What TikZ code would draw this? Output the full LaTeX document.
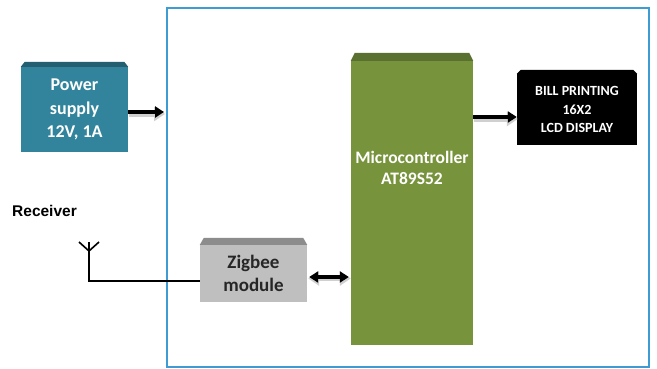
\documentclass[tikz,border=0pt]{standalone}
\usepackage{fontspec}
\setmainfont{Carlito}
\newfontfamily\arialfont{Liberation Sans}
\usetikzlibrary{arrows.meta,calc}
\definecolor{teal1}{HTML}{31849B}
\definecolor{teal2}{HTML}{235F70}
\definecolor{green1}{HTML}{77933C}
\definecolor{green2}{HTML}{5A7030}
\definecolor{gray1}{HTML}{BFBFBF}
\definecolor{gray2}{HTML}{8C8C8C}
\definecolor{frame}{HTML}{3F9BD3}
\definecolor{shadowc}{HTML}{D0D0D0}
\tikzset{
  blk/.style={inner sep=0pt, align=center, font=\bfseries},
  bigarrow/.style={line width=3.6pt, -{Triangle[length=9pt,width=11pt]}},
  bigdarrow/.style={line width=3.6pt, {Triangle[length=9pt,width=11pt]}-{Triangle[length=9pt,width=11pt]}},
  shadowarrow/.style={line width=5.5pt, shadowc, -{Triangle[length=11pt,width=14pt]}},
  shadowdarrow/.style={line width=5.5pt, shadowc, {Triangle[length=11pt,width=14pt]}-{Triangle[length=11pt,width=14pt]}},
  wire/.style={line width=1.6pt, black}
}
\begin{document}
\begin{tikzpicture}[x=1pt,y=-1pt]
\useasboundingbox (0,0) rectangle (657,369);
\fill[white] (0,0) rectangle (657,369);
% outer frame
\draw[frame, line width=2pt] (167,8) rectangle (649,367);

% power supply
\node[blk, fill=teal1, minimum width=107pt, minimum height=85pt, text=white, font=\bfseries\fontsize{18}{23.5}\selectfont] (ps) at (74.5,109.5) {Power\\supply\\12V, 1A};
\fill[teal2] (ps.north west) -- ++(4,-5) -- ($(ps.north east)+(-4,-5)$) -- (ps.north east) -- cycle;

% microcontroller
\node[blk, fill=green1, minimum width=122pt, minimum height=284pt] (mc) at (412,203) {};
\node[blk, text=white, font=\bfseries\fontsize{17.5}{21}\selectfont] (mct) at (412,168) {Microcontroller\\AT89S52};
\fill[green2] (mc.north west) -- ++(4,-8) -- ($(mc.north east)+(-4,-8)$) -- (mc.north east) -- cycle;

% LCD
\node[blk, fill=black, minimum width=120pt, minimum height=71pt, text=white, font=\bfseries\fontsize{14}{18.5}\selectfont] (lcd) at (577,109.5) {BILL PRINTING\\16X2\\LCD DISPLAY};
\fill[black] (lcd.north west) -- ++(4,-4) -- ($(lcd.north east)+(-4,-4)$) -- (lcd.north east) -- cycle;

% zigbee
\node[blk, fill=gray1, minimum width=107pt, minimum height=57pt, text=black!85, font=\bfseries\fontsize{19}{23}\selectfont] (zb) at (253.5,273.5) {Zigbee\\module};
\fill[gray2] (zb.north west) -- ++(4,-7) -- ($(zb.north east)+(-4,-7)$) -- (zb.north east) -- cycle;

% receiver
\node[inner sep=0pt, anchor=west, font=\arialfont\bfseries\fontsize{15.5}{17}\selectfont] (rx) at (12,211) {Receiver};
\coordinate (ant) at (89,251);
\coordinate (antl) at (79,242);
\coordinate (antr) at (99,242);
\coordinate (antb) at (89,281);
\draw[wire] (antl) -- (ant) -- (antr);
\draw[wire] (89,242) -- (antb) -- (zb.west |- antb);

% arrows
\coordinate (a1s) at (ps.east |- 0,112);
\coordinate (a1e) at (164,112);
\draw[shadowarrow] ($(a1s)+(1,2)$) -- ($(a1e)+(1,2)$);
\draw[bigarrow] (a1s) -- (a1e);

\coordinate (a2s) at (mc.east |- 0,117);
\coordinate (a2e) at (lcd.west |- 0,117);
\draw[shadowarrow] ($(a2s)+(1,2)$) -- ($(a2e)+(1,2)$);
\draw[bigarrow] (a2s) -- (a2e);

\coordinate (a3s) at (zb.east |- 0,277);
\coordinate (a3e) at (mc.west |- 0,277);
\draw[shadowdarrow] ($(a3s)+(1,1.5)$) -- ($(a3e)+(0,1.5)$);
\draw[bigdarrow] ($(a3s)+(2,0)$) -- ($(a3e)+(-2,0)$);
\end{tikzpicture}
\end{document}
